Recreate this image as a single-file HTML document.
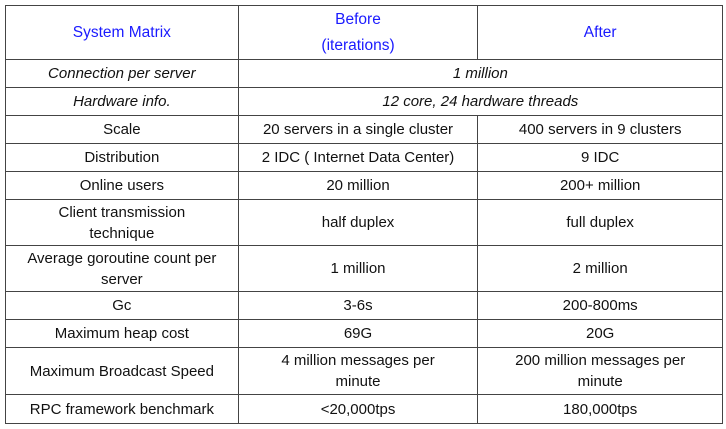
<!DOCTYPE html>
<html><head><meta charset="utf-8"><style>
body{margin:0;width:726px;height:429px;background:#fff;overflow:hidden}
table{position:absolute;left:5px;top:5px;border-collapse:collapse;width:718px;font-family:"Liberation Sans","DejaVu Sans",sans-serif;font-size:15px;color:#111}
td{border:1px solid #444;text-align:center;padding:0 4px;line-height:21px}
.h{color:#1a1aff;font-size:15.5px;line-height:26px}
.i{font-style:italic}
</style></head><body>
<table>
<colgroup><col style="width:233px"><col style="width:240px"><col style="width:245px"></colgroup>
<tr style="height:54px"><td class="h">System Matrix</td><td class="h">Before<br>(iterations)</td><td class="h">After</td></tr>
<tr style="height:28px"><td class="i">Connection per server</td><td colspan="2" class="i">1 million</td></tr>
<tr style="height:28px"><td class="i">Hardware info.</td><td colspan="2" class="i">12 core, 24 hardware threads</td></tr>
<tr style="height:28px"><td>Scale</td><td>20 servers in a single cluster</td><td>400 servers in 9 clusters</td></tr>
<tr style="height:28px"><td>Distribution</td><td>2 IDC ( Internet Data Center)</td><td>9 IDC</td></tr>
<tr style="height:28px"><td>Online users</td><td>20 million</td><td>200+ million</td></tr>
<tr style="height:46px"><td>Client transmission<br>technique</td><td>half duplex</td><td>full duplex</td></tr>
<tr style="height:46px"><td>Average goroutine count per<br>server</td><td>1 million</td><td>2 million</td></tr>
<tr style="height:28px"><td>Gc</td><td>3-6s</td><td>200-800ms</td></tr>
<tr style="height:28px"><td>Maximum heap cost</td><td>69G</td><td>20G</td></tr>
<tr style="height:47px"><td>Maximum Broadcast Speed</td><td>4 million messages per<br>minute</td><td>200 million messages per<br>minute</td></tr>
<tr style="height:29px"><td>RPC framework benchmark</td><td>&lt;20,000tps</td><td>180,000tps</td></tr>
</table>
</body></html>
